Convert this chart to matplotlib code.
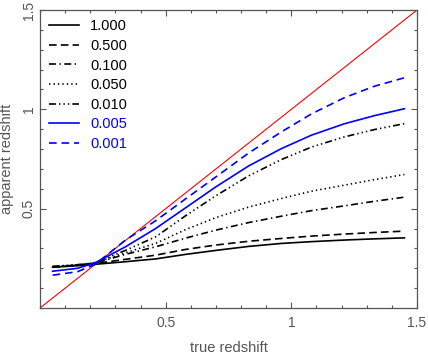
import matplotlib
matplotlib.use("Agg")
import matplotlib.pyplot as plt
from matplotlib.ticker import MultipleLocator

plt.rcParams['font.family'] = ['Liberation Sans', 'DejaVu Sans']
plt.rcParams['lines.scale_dashes'] = False

# true redshift sample points
z_true = [0.05, 0.15, 0.22, 0.34, 0.46, 0.58, 0.70, 0.83, 0.96, 1.08, 1.21, 1.33, 1.45]

# apparent redshift for each threshold
labels = ['1.000', '0.500', '0.100', '0.050', '0.010', '0.005', '0.001']
z_1000 = [0.205, 0.213, 0.220, 0.233, 0.247, 0.270, 0.290, 0.310, 0.325, 0.334, 0.342, 0.348, 0.353]
z_0500 = [0.205, 0.215, 0.224, 0.245, 0.266, 0.295, 0.317, 0.336, 0.350, 0.362, 0.372, 0.380, 0.387]
z_0100 = [0.207, 0.216, 0.226, 0.270, 0.308, 0.352, 0.392, 0.430, 0.462, 0.490, 0.514, 0.537, 0.558]
z_0050 = [0.208, 0.217, 0.227, 0.278, 0.325, 0.395, 0.455, 0.508, 0.551, 0.588, 0.618, 0.646, 0.672]
z_0010 = [0.210, 0.218, 0.228, 0.290, 0.358, 0.465, 0.565, 0.665, 0.747, 0.810, 0.861, 0.898, 0.928]
z_0005 = [0.185, 0.200, 0.228, 0.308, 0.400, 0.505, 0.610, 0.715, 0.802, 0.870, 0.927, 0.968, 1.003]
z_0001 = [0.165, 0.183, 0.220, 0.342, 0.439, 0.550, 0.660, 0.780, 0.886, 0.977, 1.058, 1.116, 1.159]

series = [z_1000, z_0500, z_0100, z_0050, z_0010, z_0005, z_0001]
colors = ['black', 'black', 'black', 'black', 'black', 'blue', 'blue']
styles = ['-', (0, (5.5, 3)), (0, (5, 2.5, 1, 2.5)), (0, (1, 2.2)),
          (0, (5, 2.2, 1, 2.2, 1, 2.2, 1, 2.2)), '-', (0, (5.5, 3.5))]

grey = '#555555'

fig = plt.figure(figsize=(4.28, 3.54), dpi=100)
ax = fig.add_axes([40/428, 46/354, 377/428, 298/354])

ax.plot([0, 1.5], [0, 1.5], color='red', lw=0.8)
for y, c, ls, lab in zip(series, colors, styles, labels):
    ax.plot(z_true, y, color=c, linestyle=ls, lw=1.2, label=lab)

ax.set_xlim(0, 1.5)
ax.set_ylim(0, 1.5)
ax.xaxis.set_minor_locator(MultipleLocator(0.1))
ax.yaxis.set_minor_locator(MultipleLocator(0.1))
ax.set_xticks([0.5, 1.0, 1.5])
ax.set_xticklabels(['0.5', '1', '1.5'])
ax.set_yticks([0.5, 1.0, 1.5])
ax.set_yticklabels(['0.5', '1', '1.5'], rotation=90, va='center')
ax.tick_params(which='both', direction='in', top=True, right=True,
               color=grey, labelcolor=grey, labelsize=10)
ax.tick_params(which='major', length=4.5, width=0.8)
ax.tick_params(axis='x', which='major', pad=6)
ax.tick_params(axis='y', which='major', pad=3)
ax.tick_params(which='minor', length=2.5, width=0.8)
for s in ax.spines.values():
    s.set_color(grey)
    s.set_linewidth(0.9)

ax.set_xlabel('true redshift', color=grey, fontsize=10.5, labelpad=8)
ax.set_ylabel('apparent redshift', color=grey, fontsize=10.5)
ax.yaxis.set_label_coords(-0.07, 0.5)

leg = ax.legend(loc='upper left', frameon=False, fontsize=10.5, handlelength=2.0,
                handletextpad=0.8, labelspacing=0.38, borderaxespad=0.25,
                labelcolor='linecolor')

fig.savefig('out.png', dpi=100)
